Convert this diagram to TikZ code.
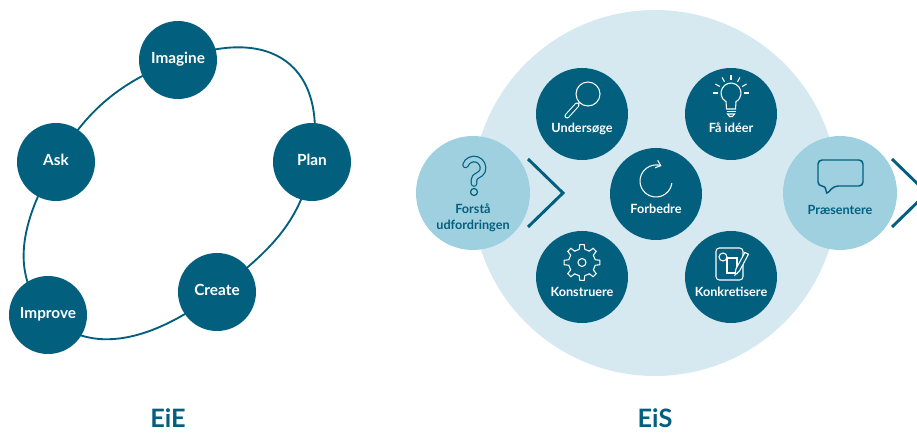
\documentclass[tikz,border=0pt]{standalone}
\usepackage{fontspec}
\setmainfont{Lato}
\usepackage{tikz}
\usetikzlibrary{positioning,calc,backgrounds,arrows.meta}
\definecolor{deepteal}{HTML}{02607E}
\definecolor{paleblue}{HTML}{D6E9F0}
\definecolor{midblue}{HTML}{9ED0E0}
\tikzstyle{stage} = [circle, fill=deepteal, minimum size=58.5pt, inner sep=0pt, %
   text=white, text height=8pt, text depth=2pt, font=\fontsize{11.5}{13}\selectfont\bfseries]
\tikzstyle{hub} = [circle, fill=paleblue, minimum size=274.5pt, inner sep=0pt]
\tikzstyle{phase} = [circle, fill=deepteal, minimum size=69pt, inner sep=0pt]
\tikzstyle{endphase} = [circle, fill=midblue, minimum size=85.5pt, inner sep=0pt]
\tikzstyle{phaselbl} = [anchor=base, inner sep=0pt, text=white, %
   font=\fontsize{9.5}{12.5}\selectfont\bfseries]
\tikzstyle{endlbl} = [anchor=base, inner sep=0pt, text=deepteal, %
   font=\fontsize{9.5}{12.5}\selectfont\bfseries]
\tikzstyle{title} = [anchor=base, inner sep=0pt, text=deepteal, font=\fontsize{19}{22}\selectfont\bfseries]
\tikzstyle{loopline} = [draw=deepteal, line width=1.4pt]
\tikzstyle{chevron} = [draw=deepteal, line width=2.2pt]
\tikzstyle{icon} = [draw=white, line width=0.8pt]
\tikzstyle{icondark} = [draw=deepteal, line width=1.1pt]

\begin{document}
\begin{tikzpicture}[x=0.75pt, y=0.75pt]
   \clip (0,0) rectangle (917,435);

   % EiE CYCLE %%%%%%%%%%%%%%%%%%%%%%%%%%%%%%%%%%%%%%%%%%%%%%%%%%%%%
   \node[stage] (imagine) at (178,375) {Imagine};
   \node[stage] (ask) at (56,273) {Ask};
   \node[stage] (plan) at (312,273) {Plan};
   \node[stage] (create) at (217,143) {Create};
   \node[stage] (improve) at (48,120) {Improve};
   \begin{scope}[on background layer]
      \draw[loopline] (imagine.center) to[out=21, in=80, looseness=1.5] (plan.center)
         to[out=-100, in=38] (create.center)
         to[out=-142, in=-45] (improve.center)
         to[out=135, in=-121] (ask.center)
         to[out=59, in=201] (imagine.center);
   \end{scope}
   \node[title] (eie) at (168,7) {EiE};

   % EiS CIRCLE %%%%%%%%%%%%%%%%%%%%%%%%%%%%%%%%%%%%%%%%%%%%%%%%%%%%
   \node[hub] (hub) at (655,242) {};
   \node[endphase] (forsta) at (473,242) {};
   \node[endphase] (praes) at (840,242) {};
   \node[phase] (forbedre) at (656,241) {};
   \node[phase] (undersoge) at ($(forbedre)+(-74,80)$) {};
   \node[phase] (ideer) at ($(forbedre)+(75,80)$) {};
   \node[phase] (konstruere) at ($(forbedre)+(-74,-83)$) {};
   \node[phase] (konkret) at ($(forbedre)+(75,-83)$) {};

   % labels
   \node[endlbl] (forsta-lbl) at ($(forsta)+(0,-20.3)$) {Forstå};
   \node[endlbl] (forsta-lbl2) at ($(forsta)+(0,-37)$) {udfordringen};
   \node[endlbl] (praes-lbl) at ($(praes)+(0,-21.3)$) {Præsentere};
   \node[phaselbl] (undersoge-lbl) at ($(undersoge)+(0,-18.5)$) {Undersøge};
   \node[phaselbl] (ideer-lbl) at ($(ideer)+(0,-18.5)$) {Få idéer};
   \node[phaselbl] (forbedre-lbl) at ($(forbedre)+(0,-19.3)$) {Forbedre};
   \node[phaselbl] (konstruere-lbl) at ($(konstruere)+(0,-19.7)$) {Konstruere};
   \node[phaselbl] (konkret-lbl) at ($(konkret)+(0,-19.7)$) {Konkretisere};

   % chevrons
   \coordinate (tip1) at ($(forsta)+(90,0)$);
   \coordinate (tip2) at ($(praes)+(87,0)$);
   \draw[chevron] ($(tip1)+(-35,34)$) -- (tip1) -- ($(tip1)+(-35,-34)$);
   \draw[chevron] ($(tip2)+(-35,34)$) -- (tip2) -- ($(tip2)+(-35,-34)$);

   % icons
   \begin{scope}[shift={(forsta.center)}]
      \draw[icondark, line width=0.9pt, double=midblue, double distance=3.2pt, line cap=round]
         (1,25) ++(160:9) arc[start angle=160, end angle=-20, radius=9]
         to[out=-110, in=90] (1,13) -- (1,9.5);
      \draw[icondark, line width=0.9pt] (1,1) circle[radius=3.5];
   \end{scope}
   \begin{scope}[shift={(praes.center)}]
      \draw[icondark, rounded corners=3] (-6,7) -- (23,7) -- (23,33) -- (-22,33)
         -- (-22,7) -- (-14,7) -- (-14,-2) -- cycle;
   \end{scope}
   \begin{scope}[shift={(undersoge.center)}]
      \draw[icon] (6,20) circle[radius=12];
      \draw[icon] (-2.5,11.5) -- (-5,9);
      \draw[icon, double=deepteal, double distance=2.2pt, line cap=round] (-5,9) -- (-15,-2);
   \end{scope}
   \begin{scope}[shift={(ideer.center)}]
      \draw[icon] (-5,12.3) arc[start angle=240, end angle=-60, radius=10]
         -- (4.5,5) -- (-4.5,5) -- cycle;
      \draw[icon] (-4.5,2.5) -- (4.5,2.5);
      \draw[icon] (-3.5,0) -- (-1.5,-2.5) -- (1.5,-2.5) -- (3.5,0) -- cycle;
      \foreach \a in {0,30,...,180}
         \draw[icon] (0,21) ++(\a:13) -- ++(\a:5);
   \end{scope}
   \begin{scope}[shift={(forbedre.center)}]
      \draw[icon, shift={(0,13)}, -{Straight Barb[length=3.5pt,width=6pt]}]
         (-8:16) arc[start angle=-8, end angle=-290, radius=16];
   \end{scope}
   \begin{scope}[shift={(konstruere.center)}]
      \draw[icon] (0,14.5) circle[radius=4];
      \draw[icon, shift={(0,14.5)}] (-12:13.5) \foreach \a in {0,45,...,315}{
         -- (\a-7:18) -- (\a+7:18) -- (\a+12:13.5)
         arc[start angle=\a+12, end angle=\a+33, radius=13.5] } -- cycle;
   \end{scope}
   \begin{scope}[shift={(konkret.center)}]
      \draw[icon, rounded corners=2.5] (-15,-3) rectangle (12,29);
      \draw[icon] (-8,20) circle[radius=4];
      \draw[icon, fill=deepteal] (-4,4) rectangle (6,19);
      \draw[icon, fill=deepteal] (13.9,24.6) -- (17.5,22.8) -- (8.5,6) -- (4,2) -- (4.9,8) -- cycle;
   \end{scope}

   \node[title] (eis) at (655,7) {EiS};
\end{tikzpicture}
\end{document}
